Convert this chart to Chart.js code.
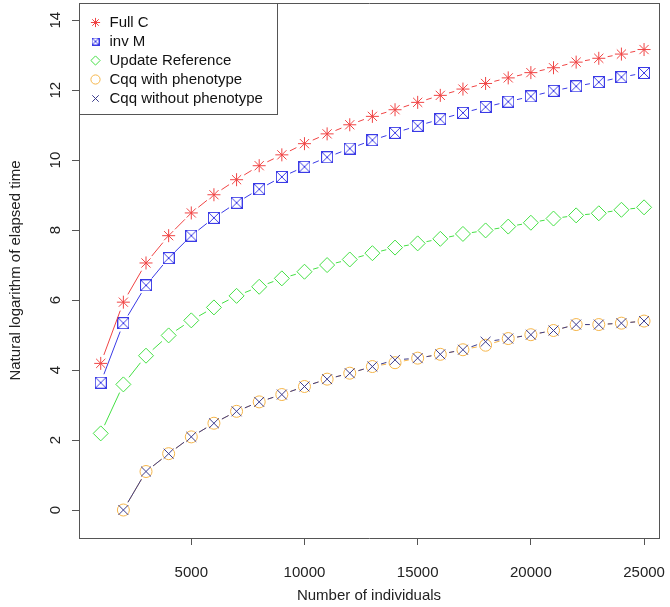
<!DOCTYPE html>
<html>
<head>
<meta charset="utf-8">
<title>Elapsed time by number of individuals</title>
<script src="https://cdn.jsdelivr.net/npm/chart.js@4.4.0/dist/chart.umd.min.js"></script>
<style>
  html, body { margin: 0; padding: 0; background: #fff; overflow: hidden; }
  #wrap { width: 670px; height: 607px; }
  canvas { display: block; }
</style>
</head>
<body>
<div id="wrap"><canvas id="chart" width="670" height="607"></canvas></div>
<script>
const individuals = [1000, 2000, 3000, 4000, 5000, 6000, 7000, 8000, 9000, 10000, 11000, 12000, 13000,
    14000, 15000, 16000, 17000, 18000, 19000, 20000, 21000, 22000, 23000, 24000, 25000];

const fullC = [4.19, 5.94, 7.06, 7.84, 8.49, 9.01, 9.44, 9.84, 10.15, 10.47, 10.75, 11.01, 11.25,
    11.44, 11.65, 11.85, 12.03, 12.19, 12.35, 12.50, 12.64, 12.80, 12.91, 13.03, 13.16];
const invM = [3.64, 5.34, 6.42, 7.20, 7.84, 8.35, 8.78, 9.17, 9.52, 9.81, 10.08, 10.33, 10.57,
    10.78, 10.98, 11.17, 11.35, 11.52, 11.67, 11.82, 11.98, 12.11, 12.23, 12.37, 12.49];
const updateRef = [2.19, 3.59, 4.41, 4.99, 5.42, 5.79, 6.12, 6.38, 6.62, 6.81, 7.00, 7.16, 7.34,
    7.50, 7.62, 7.75, 7.89, 7.99, 8.10, 8.21, 8.33, 8.42, 8.48, 8.58, 8.65];
const cqqWith = [null, 0.00, 1.10, 1.61, 2.09, 2.48, 2.82, 3.09, 3.30, 3.53, 3.74, 3.91, 4.10,
    4.21, 4.34, 4.45, 4.58, 4.71, 4.90, 5.01, 5.13, 5.30, 5.30, 5.34, 5.40];
const cqqWithout = [null, 0.00, 1.10, 1.61, 2.09, 2.48, 2.82, 3.09, 3.30, 3.53, 3.74, 3.91, 4.10,
    4.29, 4.34, 4.45, 4.58, 4.81, 4.90, 5.01, 5.13, 5.30, 5.30, 5.34, 5.40];

const xTicks = [5000, 10000, 15000, 20000, 25000];
const yTicks = [0, 2, 4, 6, 8, 10, 12, 14];

const FONT = "'Liberation Sans', Arial, sans-serif";
const AXIS = '#555';
Chart.defaults.font.family = FONT;

// square with an x inside (R pch 7)
function boxCross(size, color) {
    const c = document.createElement('canvas');
    c.width = c.height = size;
    const g = c.getContext('2d');
    g.strokeStyle = color;
    g.lineWidth = 1;
    g.strokeRect(0.5, 0.5, size - 1, size - 1);
    g.beginPath();
    g.moveTo(1, 1); g.lineTo(size - 1, size - 1);
    g.moveTo(size - 1, 1); g.lineTo(1, size - 1);
    g.stroke();
    return c;
}

const toPoints = ys => individuals.map((x, i) => ({ x: x, y: ys[i] })).filter(p => p.y !== null);

// type="b": each segment is cut short near the points
const GAP = 9;
const gapped = {
    borderDash: ctx => {
        const len = Math.hypot(ctx.p1.x - ctx.p0.x, ctx.p1.y - ctx.p0.y);
        const tail = 1000 + ctx.p0DataIndex * 0.001;
        return len > 2 * GAP ? [0, GAP, len - 2 * GAP, tail] : [0, tail];
    }
};

function series(label, ys, color, style, radius, order) {
    return {
        label: label,
        data: toPoints(ys),
        borderColor: color,
        backgroundColor: color,
        borderWidth: 1,
        pointStyle: style,
        pointRadius: radius,
        pointBorderWidth: 1,
        pointBackgroundColor: 'rgba(0,0,0,0)',
        segment: gapped,
        order: order
    };
}

const red = '#f04444', blue = '#3a3ae6', green = '#44e044', orange = '#f5b54a', navy = '#3c3c8c';
const boxBig = boxCross(12, blue);
const boxSmall = boxCross(8, blue);

// empty axes on top and right close the box round the plot
const edge = (position, axis, fit) => ({
    type: 'linear',
    position: position,
    axis: axis,
    min: 0,
    max: 1,
    ticks: { display: false },
    grid: { display: false, drawTicks: false },
    border: { display: true, color: AXIS },
    afterFit: fit
});

// legend box in the top left corner
const legendFrame = {
    id: 'legendFrame',
    afterLayout(chart) {
        const lg = chart.legend;
        lg.left += 6;
        lg.top += 11;
    },
    afterDraw(chart) {
        const ctx = chart.ctx;
        const lg = chart.legend;
        const lab = lg.options.labels;
        const pad = lab.padding;
        const fs = lab.font.size;
        const widest = Math.max(...lg.legendHitBoxes.map(h => h.width));
        const n = lg.legendItems.length;
        const l = Math.round(chart.chartArea.left) + 0.5;
        const t = Math.round(chart.chartArea.top) + 0.5;
        const r = Math.round(lg.left + pad + widest + 14) + 0.5;
        const b = Math.round(lg.top + pad + n * (fs + pad) - pad + 8) + 0.5;
        ctx.save();
        ctx.strokeStyle = AXIS;
        ctx.lineWidth = 1;
        ctx.strokeRect(l, t, r - l, b - t);
        ctx.restore();
    }
};

new Chart(document.getElementById('chart'), {
    type: 'line',
    data: {
        datasets: [
            series('Full C', fullC, red, 'star', 6.5, 0),
            series('inv M', invM, blue, boxBig, 6, 0),
            series('Update Reference', updateRef, green, 'rectRot', 7.5, 0),
            series('Cqq with phenotype', cqqWith, orange, 'circle', 6, 0),
            series('Cqq without phenotype', cqqWithout, navy, 'crossRot', 7, -1)
        ]
    },
    options: {
        responsive: false,
        animation: false,
        layout: { padding: { top: 3, right: 11, left: 0, bottom: 0 }, autoPadding: false },
        scales: {
            x: {
                type: 'linear',
                min: 40,
                max: 25660,
                afterBuildTicks: s => { s.ticks = xTicks.map(v => ({ value: v })); },
                afterFit: s => { s.height = 69; s.paddingLeft = 0; s.paddingRight = 0; },
                ticks: { font: { size: 15 }, color: '#222', padding: 19, maxRotation: 0, autoSkip: false,
                    callback: v => String(v) },
                grid: { drawOnChartArea: false, tickLength: 7, color: AXIS },
                border: { color: AXIS },
                title: { display: true, text: 'Number of individuals', font: { size: 15 }, color: '#222',
                    padding: { top: 0, bottom: 2 } }
            },
            y: {
                type: 'linear',
                min: -0.8,
                max: 14.49,
                afterBuildTicks: s => { s.ticks = yTicks.map(v => ({ value: v })); },
                afterFit: s => { s.width = 79; s.paddingTop = 0; s.paddingBottom = 0; },
                ticks: { font: { size: 15 }, color: '#222', padding: 8, minRotation: 90, maxRotation: 90,
                    crossAlign: 'center', autoSkip: false },
                grid: { drawOnChartArea: false, tickLength: 7, color: AXIS },
                border: { color: AXIS },
                title: { display: true, text: 'Natural logarithm of elapsed time', font: { size: 15 }, color: '#222',
                    padding: { top: 7, bottom: 0 } }
            },
            xTop: edge('top', 'x', s => { s.height = 0; s.paddingLeft = 0; s.paddingRight = 0; }),
            yRight: edge('right', 'y', s => { s.width = 0; s.paddingTop = 0; s.paddingBottom = 0; })
        },
        plugins: {
            legend: {
                position: 'chartArea',
                align: 'start',
                labels: {
                    usePointStyle: true,
                    boxWidth: 13,
                    boxHeight: 6.5,
                    padding: 4,
                    color: '#111',
                    font: { size: 15 },
                    sort: (a, b) => a.datasetIndex - b.datasetIndex,
                    generateLabels: chart => {
                        const items = Chart.defaults.plugins.legend.labels.generateLabels(chart);
                        items.forEach(it => { if (it.datasetIndex === 1) it.pointStyle = boxSmall; });
                        return items;
                    }
                }
            },
            tooltip: { enabled: false }
        }
    },
    plugins: [legendFrame]
});
</script>
</body>
</html>
